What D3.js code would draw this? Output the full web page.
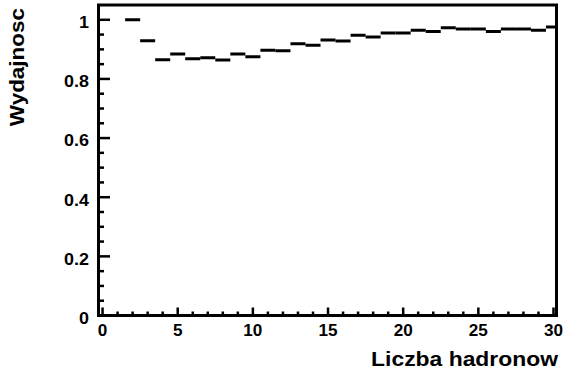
<!DOCTYPE html>
<html>
<head>
<meta charset="utf-8">
<script src="https://cdn.jsdelivr.net/npm/d3@7"></script>
<style>
  body { margin: 0; background: #fff; }
  svg { display: block; }
  text { font-family: "Liberation Sans", Arial, sans-serif; font-weight: bold; fill: #000; }
</style>
</head>
<body>
<svg id="chart"></svg>
<script>
// liczba hadronow (srodek binu) i wydajnosc
var hadrons = [2, 3, 4, 5, 6, 7, 8, 9, 10, 11, 12, 13, 14, 15, 16,
               17, 18, 19, 20, 21, 22, 23, 24, 25, 26, 27, 28, 29, 30]
var efficiency = [1.0, 0.929, 0.865, 0.884, 0.868, 0.872, 0.864, 0.884, 0.875, 0.897, 0.895,
                  0.919, 0.914, 0.932, 0.928, 0.948, 0.942, 0.955, 0.955, 0.965, 0.960,
                  0.973, 0.969, 0.969, 0.960, 0.969, 0.969, 0.965, 0.976]
var xTicks = [0, 5, 10, 15, 20, 25, 30]
var yTicks = [0, 0.2, 0.4, 0.6, 0.8, 1]

var width = 563, height = 376
var frame = { left: 98.5, right: 556.5, top: 5, bottom: 315.5 }

var svg = d3.select("#chart")
    .attr("width", width)
    .attr("height", height)

var xScale = d3.scaleLinear()
    .domain([-0.27, 30.2])
    .range([frame.left, frame.right])

var yScale = d3.scaleLinear()
    .domain([0, 1.05])
    .range([frame.bottom, frame.top])

svg.append("clipPath").attr("id", "clip")
    .append("rect")
    .attr("x", frame.left).attr("y", frame.top)
    .attr("width", frame.right - frame.left)
    .attr("height", frame.bottom - frame.top)

// histogram bins as horizontal segments
var data = hadrons.map((h, i) => ({ h: h, v: efficiency[i] }))
svg.append("g")
    .attr("clip-path", "url(#clip)")
    .selectAll("line")
    .data(data)
    .enter()
    .append("line")
    .attr("x1", d => xScale(d.h - 0.5))
    .attr("x2", d => xScale(d.h + 0.5))
    .attr("y1", d => yScale(d.v))
    .attr("y2", d => yScale(d.v))
    .attr("stroke", "#000")
    .attr("stroke-width", 3)

// ticks (inside the frame, ROOT style)
var yMinor = d3.range(0, 1.05, 0.05).map(v => +v.toFixed(2))
svg.append("g").selectAll("line")
    .data(yMinor)
    .enter()
    .append("line")
    .attr("x1", frame.left)
    .attr("x2", d => frame.left + (yTicks.some(t => Math.abs(t - d) < 1e-6) ? 11.5 : 5.5))
    .attr("y1", d => yScale(d))
    .attr("y2", d => yScale(d))
    .attr("stroke", "#000")
    .attr("stroke-width", 2.5)

var xMinor = d3.range(0, 31)
svg.append("g").selectAll("line")
    .data(xMinor)
    .enter()
    .append("line")
    .attr("x1", d => xScale(d))
    .attr("x2", d => xScale(d))
    .attr("y1", frame.bottom)
    .attr("y2", d => frame.bottom - (d % 5 == 0 ? 8 : 4))
    .attr("stroke", "#000")
    .attr("stroke-width", 2.5)

// frame
svg.append("rect")
    .attr("x", frame.left).attr("y", frame.top)
    .attr("width", frame.right - frame.left)
    .attr("height", frame.bottom - frame.top)
    .attr("fill", "none")
    .attr("stroke", "#000")
    .attr("stroke-width", 3)

// tick labels
svg.append("g").selectAll("text")
    .data(yTicks)
    .enter()
    .append("text")
    .attr("transform", d => "translate(89," + (yScale(d) + 8.3) + ") scale(1.1,1)")
    .attr("text-anchor", "end")
    .style("font-size", "16.3px")
    .text(d => d)

svg.append("g").selectAll("text")
    .data(xTicks)
    .enter()
    .append("text")
    .attr("transform", d => "translate(" + xScale(d) + ",336) scale(1.05,1)")
    .attr("text-anchor", "middle")
    .style("font-size", "16.3px")
    .text(d => d)

// axis titles
svg.append("text")
    .attr("transform", "translate(558,366) scale(1.117,1)")
    .attr("text-anchor", "end")
    .style("font-size", "20.5px")
    .text("Liczba hadronow")

svg.append("text")
    .attr("transform", "translate(24,8) rotate(-90) scale(1.07,1)")
    .attr("text-anchor", "end")
    .style("font-size", "21px")
    .text("Wydajnosc")
</script>
</body>
</html>
